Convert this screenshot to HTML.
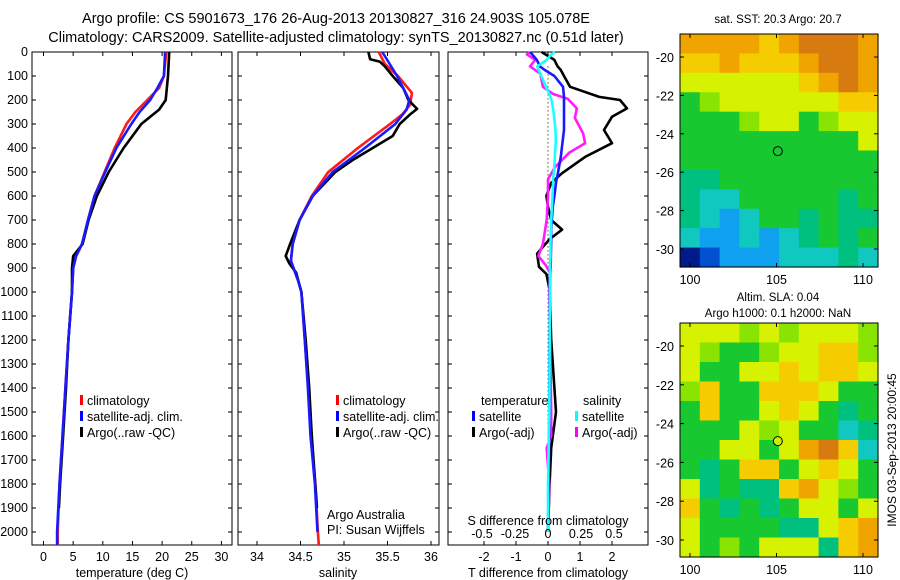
<!DOCTYPE html>
<html><head><meta charset="utf-8"><style>
html,body{margin:0;padding:0;background:#fff;}
svg{display:block;font-family:"Liberation Sans",sans-serif;}
</style></head><body>
<svg id="fig" width="900" height="580" viewBox="0 0 900 580">
<text x="336" y="23" font-size="14.5" text-anchor="middle">Argo profile: CS 5901673_176 26-Aug-2013 20130827_316 24.903S 105.078E</text>
<text x="336" y="42" font-size="14.5" text-anchor="middle">Climatology: CARS2009. Satellite-adjusted climatology: synTS_20130827.nc (0.51d later)</text>
<text x="778" y="23" font-size="11.5" text-anchor="middle">sat. SST: 20.3 Argo: 20.7</text>
<text x="778" y="301" font-size="11.5" text-anchor="middle">Altim. SLA: 0.04</text>
<text x="778" y="317" font-size="11.5" text-anchor="middle">Argo h1000: 0.1 h2000: NaN</text>
<text transform="translate(896,450) rotate(-90)" font-size="12" text-anchor="middle">IMOS 03-Sep-2013 20:00:45</text>
<g id="plots"></g>
</svg>
<script>
// ---- data ----
const depthT = [0,100,150,200,250,300,400,500,600,700,800,850,900,1000,1200,1400,1600,1800,2000,2054];
const tempClim = [20.7,20.3,19.5,17.5,15.5,14.0,12.0,10.3,8.6,7.5,6.5,5.5,5.0,4.8,4.2,3.7,3.2,2.7,2.4,2.4];
const tempSat  = [20.5,20.3,19.2,18.0,16.2,14.8,12.3,10.4,8.6,7.5,6.5,5.5,5.0,4.8,4.2,3.7,3.2,2.7,2.3,2.3];
const depthTA = [0,100,200,240,300,400,500,600,700,800,850,900,1000,1200,1400,1600,1800,1900];
const tempArgo = [21.2,21.0,20.6,19.5,16.5,13.5,11.0,9.0,7.6,6.6,5.0,4.8,4.8,4.2,3.8,3.3,2.8,2.6];

const depthS = [0,50,100,170,220,260,300,400,500,600,700,800,870,950,1000,1200,1400,1600,1800,2000,2054];
const salClim = [35.40,35.47,35.62,35.78,35.76,35.67,35.53,35.16,34.82,34.63,34.49,34.41,34.39,34.47,34.51,34.55,34.59,34.62,34.67,34.70,34.71];
const depthSS = [0,100,200,240,300,400,500,600,700,800,870,950,1000,1200,1400,1600,1800,2000];
const salSat = [35.44,35.61,35.75,35.72,35.59,35.24,34.87,34.64,34.49,34.41,34.39,34.47,34.51,34.55,34.585,34.615,34.665,34.695];
const depthSA = [0,30,40,60,100,150,200,237,260,300,350,400,450,500,600,700,800,850,880,920,1000,1200,1400,1600,1800,1900];
const salArgo = [35.28,35.30,35.41,35.47,35.56,35.68,35.74,35.84,35.76,35.64,35.56,35.33,35.10,34.90,34.64,34.49,34.38,34.33,34.37,34.45,34.51,34.56,34.60,34.63,34.67,34.69];

const depthD = [0,33,60,75,100,145,187,200,235,270,325,380,437,505,545,600,645,700,740,780,840,895,925,990,1200,1500,1650,1800,2000];
const tdiffSat  = [-0.56,-0.35,-0.25,-0.1,0.2,0.47,0.5,0.5,0.5,0.5,0.5,0.45,0.4,0.31,0.25,0.2,0.15,0.12,0.1,0.1,0.09,0.08,0.07,0.06,0.05,0.04,0.03,0.02,0.0];
const tdiffArgo = [-0.2,0.2,0.3,0.4,0.5,0.69,1.6,2.25,2.47,2.0,1.75,2.0,1.16,0.44,0.1,-0.05,0.0,0.1,0.44,0.05,-0.34,-0.28,-0.05,0.05,0.1,0.25,0.1,0.05,0.0];
const depthDS = [0,10,33,60,90,145,175,195,235,275,340,380,420,480,530,600,700,800,850,890,920,1000,1500,1600,1650,1800,2000];
const sdiffSat  = [0.053,0.024,-0.01,-0.082,-0.058,-0.015,0.01,0.024,0.039,0.048,0.058,0.058,0.053,0.048,0.039,0.034,0.024,0.019,0.019,0.015,0.015,0.015,0.01,0.005,0.005,0.0,0.0];
const sdiffArgo = [-0.136,-0.16,-0.097,-0.136,-0.058,-0.039,0.039,0.15,0.218,0.204,0.267,0.281,0.16,0.053,0.0,0.0,-0.01,-0.039,-0.073,-0.015,0.015,0.01,0.024,0.024,-0.01,0.01,0.0];

const tTicks = [0,5,10,15,20,25,30];
const sTicks = [34,34.5,35,35.5,36];
const sTickLabels = ["34","34.5","35","35.5","36"];
const tdTicks = [-2,-1,0,1,2];
const sdTicks = [-0.5,-0.25,0,0.25,0.5];
const sdTickLabels = ["-0.5","-0.25","0","0.25","0.5"];
const depthTicks = [0,100,200,300,400,500,600,700,800,900,1000,1100,1200,1300,1400,1500,1600,1700,1800,1900,2000];

const lonTicks = [100,105,110];
const latTicks = [-20,-22,-24,-26,-28,-30];
const sstGrid = [
"ooooyoOOOo","yyoyyyoOOo","YYYYYYyoOo","GgYYYYYYyy","GGGgYYGgYY","GGGGGGGGGY",
"GGGGGGGGGG","ttGGGGGGGG","tccGGGGGtG","tcbcGGtGtt","cbbcbctGtG","NBbbbccctc"];
const slaGrid = [
"YYYgYgYYYg","YgGGgYYyyg","YGGYYyYyyY","gyGGyyyYGG","GyGGYyYGtG","GGGYgYGGct",
"GGYYGYoOyc","GtGyyGYyYG","YtGttyoYgG","yGtGtGYYGY","YGGGGttYyo","YGgGYYYtyo"];
const palette = {O:"#d77a10",o:"#f0a400",y:"#f5cc00",Y:"#d6f200",g:"#88e400",G:"#18c830",t:"#00c080",c:"#10c8c0",b:"#10a0f0",B:"#0050d0",N:"#001a8a"};
const floatLon = 105.078, floatLat = -24.903;

// ---- drawing ----
const NS="http://www.w3.org/2000/svg";
const root=document.getElementById('plots');
function mk(tag,attrs,parent){const e=document.createElementNS(NS,tag);for(const k in attrs)e.setAttribute(k,attrs[k]);(parent||root).appendChild(e);return e;}
const top0=52, bot=545;
const yD = d => top0 + d*0.24;

function panel(name,x0,x1,xs,xticks,xlabels,yLabels){
  const g=mk('g',{});
  
  
  const r=mk('rect',{x:x0,y:top0,width:x1-x0,height:bot-top0,fill:'none',stroke:'#000','stroke-width':1},g);
  
  
  xticks.forEach((v,i)=>{
    const x=xs(v);
    mk('line',{x1:x,x2:x,y1:bot,y2:bot-4,stroke:'#000'},g);
    mk('line',{x1:x,x2:x,y1:top0,y2:top0+4,stroke:'#000'},g);
    if(xlabels){const t=mk('text',{x:x,y:561,'font-size':12.5,'text-anchor':'middle'},g);t.textContent=xlabels[i];
      
      }
  });
  depthTicks.forEach(d=>{
    const y=yD(d);
    mk('line',{x1:x0,x2:x0+4,y1:y,y2:y,stroke:'#000'},g);
    mk('line',{x1:x1,x2:x1-4,y1:y,y2:y,stroke:'#000'},g);
    if(yLabels){const t=mk('text',{x:28,y:y+4,'font-size':12.5,'text-anchor':'end'},g);t.textContent=d;
      
      }
  });
  return g;
}
function line(g,name,xs,vals,deps,color,w){
  const pts=vals.map((v,i)=>xs(v).toFixed(1)+','+yD(deps[i]).toFixed(1)).join(' ');
  const p=mk('polyline',{points:pts,fill:'none',stroke:color,'stroke-width':w||2.6,'stroke-linejoin':'round'},g);
  
  
}
function txt(g,name,x,y,s,size,anchor){const t=mk('text',{x:x,y:y,'font-size':size||12,'text-anchor':anchor||'start'},g);t.textContent=s;
  
  return t;}
function legend(g,x,y,color,label,name){
  const r=mk('rect',{x:x,y:y-10,width:3,height:10,fill:color},g);
  
  
  txt(g,name,x+7,y,label,12.5);
}

// Panel 1: temperature
const xT = v => 43.5 + v*5.93;
const g1=panel('temperature-panel',32,232,xT,tTicks,tTicks.map(String),true);
line(g1,'temp-climatology-line',xT,tempClim,depthT,'#ff1a1a');
line(g1,'temp-argo-line',xT,tempArgo,depthTA,'#000');
line(g1,'temp-satellite-line',xT,tempSat,depthT,'#1a1aff');
txt(g1,'temperature-x-axis-title',132,577,'temperature (deg C)',12.5,'middle');
legend(g1,80,405,'#ff0000','climatology','legend-climatology');
legend(g1,80,421,'#0000ff','satellite-adj. clim.','legend-satellite');
legend(g1,80,437,'#000','Argo(..raw -QC)','legend-argo');

// Panel 2: salinity
const xS = v => 257 + (v-34)*87;
const g2=panel('salinity-panel',238,439,xS,sTicks,sTickLabels,false);
line(g2,'sal-climatology-line',xS,salClim,depthS,'#ff1a1a');
line(g2,'sal-argo-line',xS,salArgo,depthSA,'#000');
line(g2,'sal-satellite-line',xS,salSat,depthSS,'#1a1aff');
txt(g2,'salinity-x-axis-title',338,577,'salinity',12.5,'middle');
legend(g2,336,405,'#ff0000','climatology','legend-climatology-s');
legend(g2,336,421,'#0000ff','satellite-adj. clim.','legend-satellite-s');
legend(g2,336,437,'#000','Argo(..raw -QC)','legend-argo-s');
txt(g2,'argo-australia-label',327,519,'Argo Australia',12.5);
txt(g2,'pi-label',327,534,'PI: Susan Wijffels',12.5);

// Panel 3: differences
const xTD = v => 548 + v*32;
const xSD = v => 548 + v*132;
const g3=panel('difference-panel',448,648,xTD,tdTicks,tdTicks.map(String),false);
mk('line',{x1:548,x2:548,y1:yD(60),y2:yD(2000),stroke:'#000','stroke-dasharray':'1,3'},g3);
line(g3,'tdiff-argo-line',xTD,tdiffArgo,depthD,'#000');
line(g3,'sdiff-argo-line',xSD,sdiffArgo,depthDS,'#ff1aff');
line(g3,'tdiff-satellite-line',xTD,tdiffSat,depthD,'#1a1aff');
line(g3,'sdiff-satellite-line',xSD,sdiffSat,depthDS,'#1affff');
sdTicks.forEach((v,i)=>txt(g3,'sdiff-tick-label',xSD(v),538,sdTickLabels[i],12.5,'middle'));
txt(g3,'sdiff-axis-title',548,525,'S difference from climatology',12.5,'middle');
txt(g3,'tdiff-x-axis-title',548,577,'T difference from climatology',12.5,'middle');
txt(g3,'legend-temperature-header',481,405,'temperature',12.5);
txt(g3,'legend-salinity-header',583,405,'salinity',12.5);
legend(g3,472,421,'#0000ff','satellite','legend-tdiff-satellite');
legend(g3,472,437,'#000','Argo(-adj)','legend-tdiff-argo');
legend(g3,575,421,'#00ffff','satellite','legend-sdiff-satellite');
legend(g3,575,437,'#ff00ff','Argo(-adj)','legend-sdiff-argo');

// Maps
function map(name,grid,y0,y1,lat20y,lat30y,circFill){
  const g=mk('g',{});
  
  
  const x0=680,x1=878;
  const rows=grid.length, cols=grid[0].length;
  const cw=(x1-x0)/cols, ch=(y1-y0)/rows;
  grid.forEach((row,ri)=>{for(let ci=0;ci<cols;ci++){
    mk('rect',{x:(x0+ci*cw).toFixed(2),y:(y0+ri*ch).toFixed(2),width:(cw+0.6).toFixed(2),height:(ch+0.6).toFixed(2),fill:palette[row[ci]]},g);
  }});
  const xl = lon => 690 + (lon-100)*17.3;
  const yl = lat => lat20y + (-20-lat)*(lat30y-lat20y)/10;
  const fr=mk('rect',{x:x0,y:y0,width:x1-x0,height:y1-y0,fill:'none',stroke:'#000'},g);
  
  
  lonTicks.forEach(l=>{const x=xl(l);
    mk('line',{x1:x,x2:x,y1:y1,y2:y1-4,stroke:'#000'},g);
    mk('line',{x1:x,x2:x,y1:y0,y2:y0+4,stroke:'#000'},g);
    txt(g,'lon-tick-label',x,y1+17,String(l),12.5,'middle');});
  latTicks.forEach(l=>{const y=yl(l);
    mk('line',{x1:x0,x2:x0+4,y1:y,y2:y,stroke:'#000'},g);
    mk('line',{x1:x1,x2:x1-4,y1:y,y2:y,stroke:'#000'},g);
    txt(g,'lat-tick-label',674,y+5,String(l),12.5,'end');});
  const c=mk('circle',{cx:xl(floatLon),cy:yl(floatLat),r:4.5,fill:circFill,stroke:'#000','stroke-width':1},g);
  
  
}
map('sst-map',sstGrid,34,267,57,249,'none');
map('sla-map',slaGrid,323,557,346,540,'#c8f000');
</script>
</body></html>
